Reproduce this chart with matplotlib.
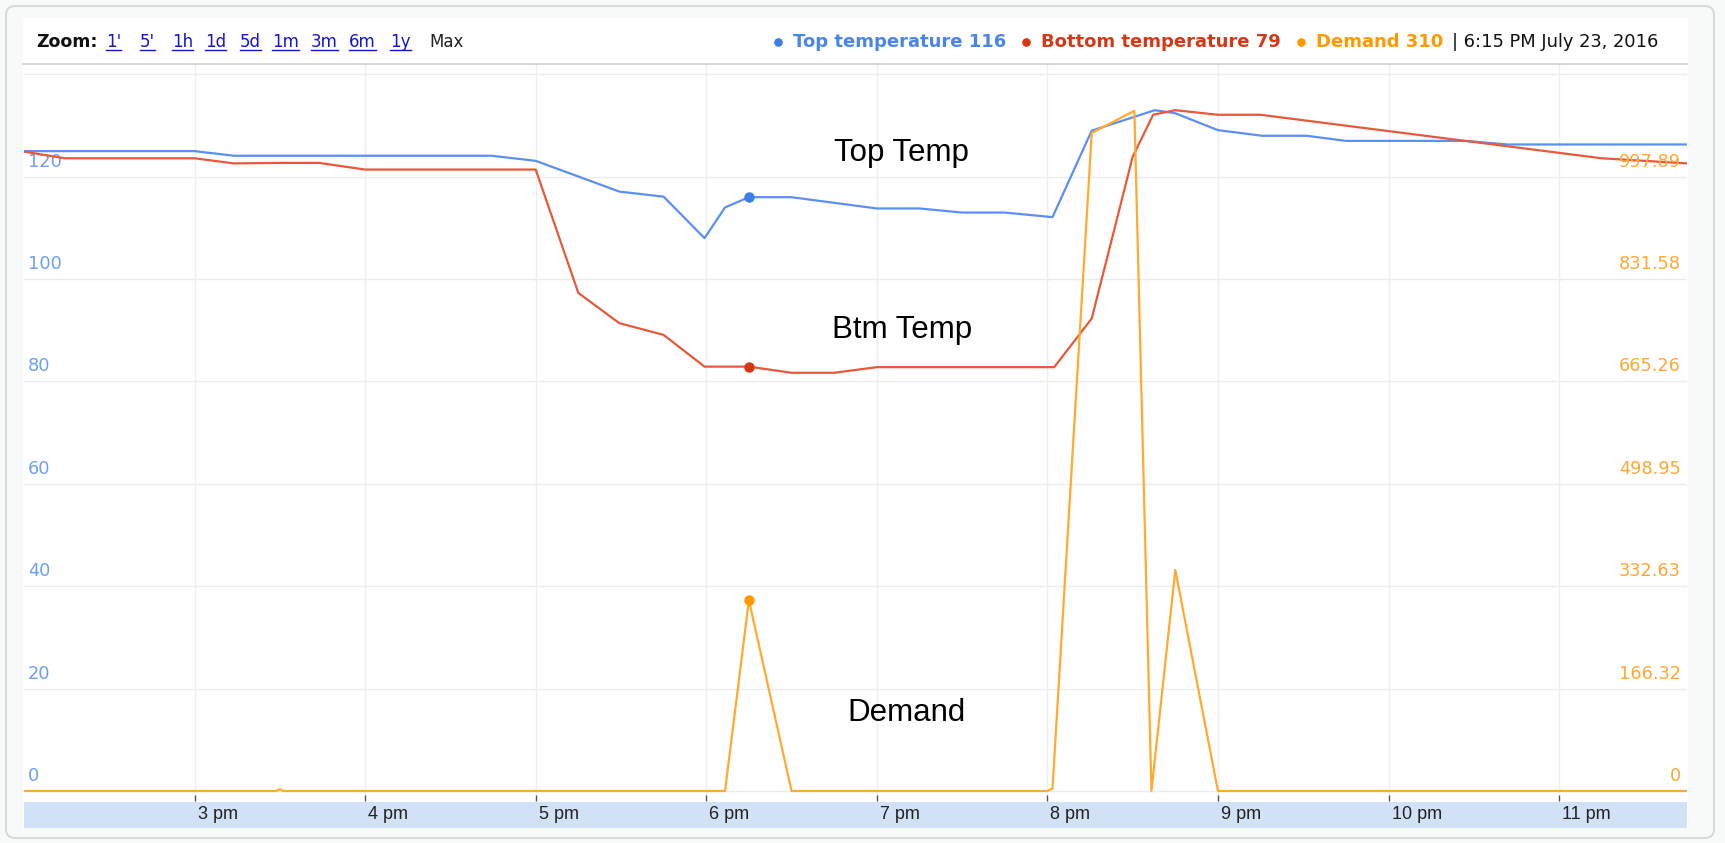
import matplotlib
matplotlib.use('Agg')
import matplotlib.pyplot as plt
from matplotlib.lines import Line2D
from matplotlib.patches import FancyBboxPatch, Rectangle
import matplotlib.transforms as mtransforms

# ---------------- data ----------------
top_hours = [14.0, 15.0, 15.23, 16.74, 17.0, 17.49, 17.75, 17.99, 18.11, 18.25, 18.5,
             19.0, 19.25, 19.5, 19.75, 20.03, 20.26, 20.63, 20.75, 21.0, 21.26, 21.52,
             21.75, 22.45, 22.7, 23.75]
top_temp = [125.0, 125.0, 124.1, 124.1, 123.1, 117.1, 116.1, 108.0, 114.0, 116.0, 116.0,
            113.8, 113.8, 113.0, 113.0, 112.1, 129.0, 133.0, 132.4, 129.1, 128.0, 128.0,
            127.0, 127.0, 126.3, 126.3]

bottom_hours = [14.0, 14.24, 15.0, 15.23, 15.5, 15.73, 16.0, 17.0, 17.25, 17.49, 17.75,
                17.99, 18.25, 18.5, 18.75, 19.0, 20.04, 20.26, 20.5, 20.62, 20.75, 21.0,
                21.25, 23.25, 23.75]
bottom_temp = [124.9, 123.6, 123.6, 122.6, 122.7, 122.7, 121.4, 121.4, 97.3, 91.4, 89.1,
               82.9, 82.9, 81.7, 81.7, 82.8, 82.8, 92.3, 123.9, 132.1, 133.0, 132.1,
               132.1, 123.6, 122.6]

demand_hours = [14.0, 15.48, 15.5, 15.52, 18.11, 18.25, 18.5, 20.0, 20.03, 20.26, 20.51,
                20.61, 20.75, 21.0, 23.75]
demand = [0, 0, 3, 0, 0, 310, 0, 0, 4, 1069, 1105, 0, 359, 0, 0]

selected_hour = 18.25
selected_top = 116.0
selected_bottom = 82.9
selected_demand = 310

hour_ticks = [15, 16, 17, 18, 19, 20, 21, 22, 23]
hour_labels = ['3 pm', '4 pm', '5 pm', '6 pm', '7 pm', '8 pm', '9 pm', '10 pm', '11 pm']
temp_ticks = [0, 20, 40, 60, 80, 100, 120, 140]
demand_ticks = [0, 166.32, 332.63, 498.95, 665.26, 831.58, 997.89, 1164.21]
demand_tick_labels = ['0', '166.32', '332.63', '498.95', '665.26', '831.58', '997.89', '1164.21']

zoom_options = ["1'", "5'", '1h', '1d', '5d', '1m', '3m', '6m', '1y', 'Max']
legend_names = ['Top temperature', 'Bottom temperature', 'Demand']
legend_values = [116, 79, 310]
timestamp = '6:15 PM July 23, 2016'
annotations = ['Top Temp', 'Btm Temp', 'Demand']

# ---------------- styles ----------------
W, H = 1725, 843
line_cols = ['#5b8ff2', '#e6593a', '#ffab2e']
dot_cols = ['#3f7fe9', '#d9380f', '#ff9900']
text_cols = ['#4a86e8', '#d23a17', '#ff9900']
left_lab_col = '#6f9ff0'
right_lab_col = '#ffa733'
link_col = '#1515cc'

fig = plt.figure(figsize=(W / 100, H / 100), dpi=100, facecolor='#f8f9f9')
ident = mtransforms.IdentityTransform()


def fx(x):
    return x / W


def fy(y):
    return 1 - y / H


# outer frame and white chart region
fig.add_artist(FancyBboxPatch((6, H - 838), 1708, 832,
                              boxstyle='round,pad=0,rounding_size=9',
                              transform=ident, facecolor='#f8f9f9',
                              edgecolor='#d6d6d6', lw=1.3, zorder=-5))
fig.add_artist(Rectangle((23, H - 828), 1665, 810, transform=ident,
                         facecolor='white', edgecolor='none', zorder=-4))

# ---------------- main axes ----------------
px_per_unit = 5.119
y_zero_px = 791
ax_top_px, ax_bot_px = 64, 801
ax = fig.add_axes([fx(24), fy(ax_bot_px), fx(1687) - fx(24), fy(ax_top_px) - fy(ax_bot_px)])
ax.set_facecolor('none')
ylo = -(ax_bot_px - y_zero_px) / px_per_unit
yhi = (y_zero_px - ax_top_px) / px_per_unit
ax.set_xlim(14.0, 23.75)
ax.set_ylim(ylo, yhi)
scale = demand_ticks[6] / temp_ticks[6]
ax2 = ax.twinx()
ax2.set_ylim(ylo * scale, yhi * scale)

for a in (ax, ax2):
    for s in a.spines.values():
        s.set_visible(False)
    a.set_yticks([])

for v in temp_ticks:
    ax.axhline(v, color='#ebebf4', lw=1.0, zorder=0)
for h in hour_ticks:
    ax.axvline(h, color='#efefef', lw=1.0, zorder=0)

ax.set_xticks(hour_ticks)
ax.tick_params(axis='x', direction='in', length=4, width=1, color='#555555',
               labelbottom=False, pad=0)

# series
ax.plot(top_hours, top_temp, color=line_cols[0], lw=1.6, zorder=3, solid_joinstyle='round')
ax.plot(bottom_hours, bottom_temp, color=line_cols[1], lw=1.6, zorder=4, solid_joinstyle='round')
ax2.plot(demand_hours, demand, color=line_cols[2], lw=1.6, zorder=5, solid_joinstyle='round')
ax.plot([selected_hour], [selected_top], 'o', color=dot_cols[0], ms=6.5, zorder=6)
ax.plot([selected_hour], [selected_bottom], 'o', color=dot_cols[1], ms=6.5, zorder=6)
ax2.plot([selected_hour], [selected_demand], 'o', color=dot_cols[2], ms=6.5, zorder=6)

# axis value labels inside the plot, above their gridlines
left_tr = mtransforms.offset_copy(
    mtransforms.blended_transform_factory(ax.transAxes, ax.transData), fig, x=4, y=10, units='dots')
for v in temp_ticks:
    ax.text(0, v, str(v), transform=left_tr, color=left_lab_col, fontsize=12.8,
            family='DejaVu Sans', ha='left', va='baseline', clip_on=True, zorder=2)
right_tr = mtransforms.offset_copy(
    mtransforms.blended_transform_factory(ax2.transAxes, ax2.transData), fig, x=-6, y=10, units='dots')
for v, lab in zip(demand_ticks, demand_tick_labels):
    ax2.text(1, v, lab, transform=right_tr, color=right_lab_col, fontsize=12.8,
             family='DejaVu Sans', ha='right', va='baseline', clip_on=True, zorder=2)

# ---------------- time band ----------------
bax = fig.add_axes([fx(24), fy(828), fx(1687) - fx(24), fy(801.5) - fy(828)])
bax.set_facecolor('#d1e2f6')
bax.set_xlim(ax.get_xlim())
bax.set_ylim(0, 1)
bax.set_xticks([])
bax.set_yticks([])
for s in bax.spines.values():
    s.set_visible(False)
band_tr = mtransforms.offset_copy(
    mtransforms.blended_transform_factory(bax.transData, bax.transAxes), fig, x=3, y=0, units='dots')
for h, lab in zip(hour_ticks, hour_labels):
    bax.text(h, 0.33, lab, transform=band_tr, fontsize=13, family='Liberation Sans',
             color='#222222', ha='left', va='baseline')

# ---------------- header ----------------
fig.add_artist(Line2D([23, 1687], [H - 63.5, H - 63.5], transform=ident,
                      color='#cfcfcf', lw=1.2))
fig.text(fx(36), fy(47), 'Zoom:', fontsize=12.5, fontweight='bold', family='DejaVu Sans',
         color='#111111', va='baseline', ha='left')
link_x = [106, 140, 172, 205, 240, 272, 311, 349, 390, 429]
renderer = fig.canvas.get_renderer()
for xpos, lab in zip(link_x, zoom_options):
    is_link = lab != 'Max'
    t = fig.text(fx(xpos), fy(47), lab, fontsize=12, family='DejaVu Sans',
                 color=link_col if is_link else '#222222', va='baseline', ha='left')
    if is_link:
        bb = t.get_window_extent(renderer)
        fig.add_artist(Line2D([bb.x0, bb.x1], [H - 49.5, H - 49.5], transform=ident,
                              color=link_col, lw=1.0))

x = 778
last = None
for name, val, tcol, dcol in zip(legend_names, legend_values, text_cols, dot_cols):
    fig.add_artist(Line2D([x], [H - 42], transform=ident, marker='o', ms=5.2,
                          color=dcol, ls=''))
    t = fig.text(fx(x + 15), fy(47), f'{name} {val}', fontsize=13, fontweight='bold',
                 family='DejaVu Sans', color=tcol, va='baseline', ha='left')
    bb = t.get_window_extent(renderer)
    last = bb.x1
    x = bb.x1 + 20
fig.text(fx(last + 9), fy(47), '| ' + timestamp, fontsize=12.9, family='DejaVu Sans',
         color='#111111', va='baseline', ha='left')

# ---------------- annotations ----------------
ann_pos = [(901, 160.7), (902.5, 338.3), (906.7, 720.7)]
for txt, (axp, ayp) in zip(annotations, ann_pos):
    fig.text(fx(axp), fy(ayp), txt, fontsize=22.5, family='Liberation Sans',
             color='#000000', ha='center', va='baseline', zorder=10)

fig.savefig('out.png', dpi=100, facecolor=fig.get_facecolor())
